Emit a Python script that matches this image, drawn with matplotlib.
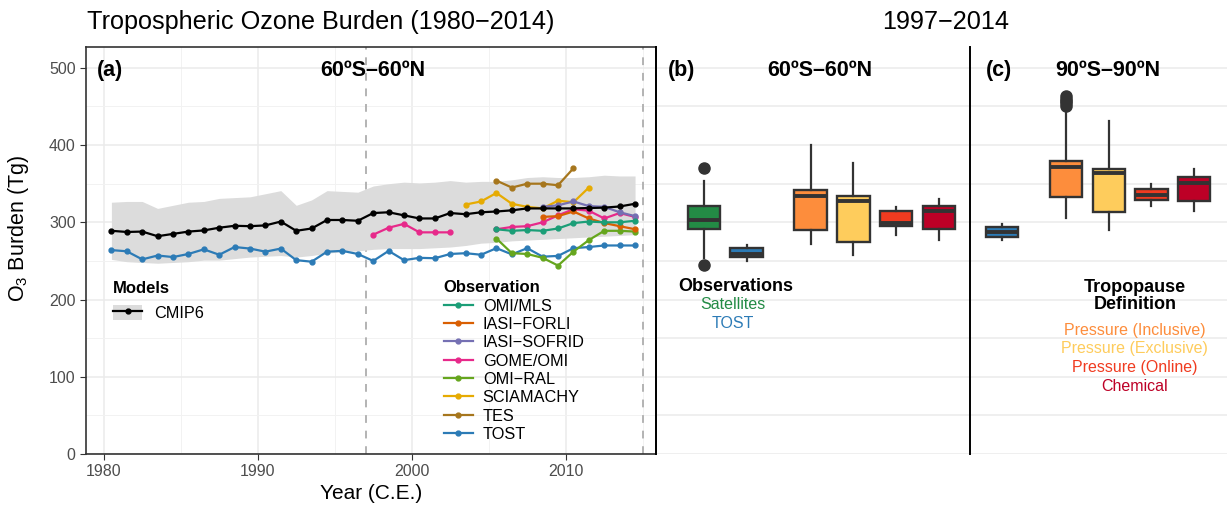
import numpy as np
import matplotlib
matplotlib.use("Agg")
import matplotlib.pyplot as plt
from matplotlib.lines import Line2D
from matplotlib.patches import Patch

plt.rcParams['font.family'] = ['Liberation Sans', 'DejaVu Sans']
plt.rcParams['mathtext.fontset'] = 'custom'
plt.rcParams['mathtext.rm'] = 'Liberation Sans'

# ---- panel (a) data: annual means, 1980.5 .. 2014.5 ----
years = np.arange(1980.5, 2015.0, 1.0)
cmip6 = [289, 287.5, 288, 282, 285, 288, 289.5, 293, 295.5, 295, 296, 301, 289, 292,
         303, 303, 302, 312, 313, 309, 305, 305, 312, 310.5, 313, 314, 315.5, 318,
         318, 318, 318, 318.5, 319, 320.5, 324]
cmip6_hi = [326, 327, 327, 318, 322, 326, 327, 331, 332, 333, 337, 341, 322, 329,
            341, 340, 339, 347, 350, 352, 351, 352, 354, 352, 353, 353, 355, 358,
            359, 358, 358, 359, 361, 360, 360]
cmip6_lo = [252, 249, 248, 247, 248, 249, 251, 251, 253, 255, 256, 257, 255, 257,
            260, 262, 263, 265, 266, 266, 266, 267, 268, 270, 273, 274, 276, 277,
            278, 279, 280, 281, 282, 283, 284]
tost = [264, 262.5, 252, 257, 255, 259, 265, 258, 268, 266, 262, 266, 251, 249,
        262, 263, 259, 250, 263, 251, 254, 253.5, 259, 260, 258, 266.5, 258.5, 266.5,
        255.5, 256.5, 266.5, 268, 270, 270, 270]

obs_names = ["OMI/MLS", "IASI\u2212FORLI", "IASI\u2212SOFRID", "GOME/OMI",
             "OMI\u2212RAL", "SCIAMACHY", "TES", "TOST"]
obs_colors = ["#1b9e77", "#d95f02", "#7570b3", "#e7298a",
              "#66a61e", "#e6ab02", "#a6761d", "#2c7bb6"]
nan = np.nan
omi_mls_yr = np.arange(2005.5, 2015.0)
omi_mls = [291, 289, 290, 289, 292, 299, 301, 300, 300, 302]
forli_yr = np.arange(2008.5, 2015.0)
forli = [307, 308, 314, 305, 299, 295, 291]
sofrid_yr = np.arange(2008.5, 2015.0)
sofrid = [320, 322, 327, 321, 320, 313, 308]
gome_yr = np.arange(1997.5, 2015.0)
gome = [284, 293, 298, 287, 287, 287, nan, nan, 291, 294, 295, 300, 309, 317,
        315, 305, 312, 307]
ral_yr = np.arange(2005.5, 2015.0)
ral = [279, 260, 259, 254, 244, 262, 277, 289, 289, 288]
sciam_yr = np.arange(2003.5, 2012.0)
sciam = [323, 327, 338, 324, 320, 318, 328, 326, 345]
tes_yr = np.arange(2005.5, 2011.0)
tes = [354, 345, 350, 350, 348, 370]

# ---- panels (b), (c): box statistics 1997-2014 ----
box_colors = ["#238b45", "#2c7bb6", "#fd8d3c", "#fecc5c", "#f03b20", "#bd0026"]
pos_b = [0, 1, 2.5, 3.5, 4.5, 5.5]
b_whislo = [253.5, 250.5, 271.5, 258, 283.5, 277]
b_q1 = [291, 255, 289.5, 274, 295.3, 291]
b_med = [303, 259.5, 334.5, 328, 298.5, 315]
b_q3 = [320.5, 267, 342, 333.5, 314, 320.5]
b_whishi = [353, 270, 400, 376.5, 319.5, 330]
b_fliers = [[370, 244.5], [], [], [], [], []]

pos_c = [1, 2.5, 3.5, 4.5, 5.5]
c_whislo = [276.5, 306, 289.5, 320.5, 315]
c_q1 = [281, 332.5, 313, 329, 328]
c_med = [287, 371, 363.5, 335, 351]
c_q3 = [294.5, 380, 369, 343, 359]
c_whishi = [297.5, 448, 431.5, 349.5, 369]
c_fliers = [[], [451, 454, 457, 460, 463], [], [], []]

W, H = 1227, 508
fig = plt.figure(figsize=(W / 100, H / 100), dpi=100)
ax = fig.add_axes([86 / W, 1 - 454 / H, 570 / W, 407 / H])
axb = fig.add_axes([656 / W, 1 - 454 / H, 314 / W, 407 / H])
axc = fig.add_axes([970 / W, 1 - 454 / H, 257 / W, 407 / H])

dark = "#333333"
tickc = "#4d4d4d"

# ---- panel (a) ----
ax.set_xlim(1978.85, 2015.86)
ax.set_ylim(0, 527)
ax.set_xticks([1980, 1990, 2000, 2010])
ax.set_xticks([1985, 1995, 2005, 2015], minor=True)
ax.set_yticks(range(0, 501, 100))
ax.set_yticks(range(50, 501, 100), minor=True)
ax.grid(which="major", color="#ebebeb", lw=1.1, zorder=0)
ax.grid(which="minor", color="#f2f2f2", lw=0.7, zorder=0)
ax.set_axisbelow(True)
ax.tick_params(which="major", direction="out", length=4, color=dark,
               labelcolor=tickc, labelsize=11.5)
ax.tick_params(which="minor", length=0)
for s in ax.spines.values():
    s.set_color(dark)
    s.set_linewidth(1.2)
for xv in (1997, 2015):
    ax.axvline(xv, color="#b3b3b3", lw=1.4, ls=(0, (4, 4)), zorder=1)

ax.fill_between(years, cmip6_lo, cmip6_hi, color="#dcdcdc", lw=0, zorder=1)
ax.plot(years, cmip6, color="black", lw=1.6, marker="o", ms=3.5, zorder=5)

obs_x = [omi_mls_yr, forli_yr, sofrid_yr, gome_yr, ral_yr, sciam_yr, tes_yr, years]
obs_y = [omi_mls, forli, sofrid, gome, ral, sciam, tes, tost]
for xs, ys, c in zip(obs_x[::-1], obs_y[::-1], obs_colors[::-1]):
    ax.plot(xs, ys, color=c, lw=1.6, marker="o", ms=3.5, zorder=4)

ax.set_xlabel("Year (C.E.)", fontsize=15, labelpad=3)
ax.set_ylabel(r"O$_\mathregular{3}$ Burden (Tg)", fontsize=15.5)
ax.yaxis.set_label_coords(-0.096, 0.555)

ax.text(0.019, 0.943, "(a)", transform=ax.transAxes, fontsize=15.5,
        fontweight="bold", va="center", ha="left")
ax.text(0.5035, 0.943, "60ºS–60ºN", transform=ax.transAxes, fontsize=15.5,
        fontweight="bold", va="center", ha="center")

h_models = (Patch(facecolor="#dcdcdc", edgecolor="none"),
            Line2D([], [], color="black", lw=1.6, marker="o", ms=3.5))
leg1 = ax.legend([h_models], ["CMIP6"], title="Models", loc="upper left",
                 bbox_to_anchor=(0.022, 0.46), frameon=False, fontsize=11.7,
                 handlelength=1.8, handleheight=1.1, handletextpad=0.75,
                 alignment="left", title_fontproperties={"weight": "bold", "size": 12})
ax.add_artist(leg1)
h_obs = [Line2D([], [], color=c, lw=1.6, marker="o", ms=3.5) for c in obs_colors]
ax.legend(h_obs, obs_names, title="Observation", loc="upper left",
          bbox_to_anchor=(0.602, 0.463), frameon=False, fontsize=11.7,
          handlelength=1.8, handletextpad=0.6, labelspacing=0.205,
          alignment="left", title_fontproperties={"weight": "bold", "size": 12})


def draw_boxes(a, pos, lo, q1, med, q3, hi, fl, cols):
    stats = []
    for i in range(len(pos)):
        stats.append(dict(whislo=lo[i], q1=q1[i], med=med[i], q3=q3[i],
                          whishi=hi[i], fliers=fl[i]))
    bp = a.bxp(stats, positions=pos, widths=0.76, patch_artist=True,
               showcaps=False, manage_ticks=False,
               boxprops=dict(edgecolor=dark, linewidth=1.7),
               medianprops=dict(color=dark, linewidth=2.8),
               whiskerprops=dict(color=dark, linewidth=1.6),
               flierprops=dict(marker="o", markerfacecolor=dark,
                               markeredgecolor=dark, markersize=8))
    for patch, c in zip(bp["boxes"], cols):
        patch.set_facecolor(c)


for a, xl in ((axb, (-1.12, 6.23)), (axc, (0.25, 6.27))):
    a.set_xlim(*xl)
    a.set_ylim(0, 527)
    a.set_yticks(range(0, 501, 50))
    a.grid(axis="y", color="#ebebeb", lw=1.1, zorder=0)
    a.set_axisbelow(True)
    a.set_xticks([])
    a.tick_params(axis="y", length=0, labelleft=False)
    for k in ("top", "right", "bottom"):
        a.spines[k].set_visible(False)
    a.spines["left"].set_color("black")
    a.spines["left"].set_linewidth(1.4)
    a.patch.set_alpha(0)

draw_boxes(axb, pos_b, b_whislo, b_q1, b_med, b_q3, b_whishi, b_fliers, box_colors)
draw_boxes(axc, pos_c, c_whislo, c_q1, c_med, c_q3, c_whishi, c_fliers, box_colors[1:])

axb.text(0.038, 0.943, "(b)", transform=axb.transAxes, fontsize=15.5,
         fontweight="bold", va="center", ha="left")
axb.text(0.522, 0.943, "60ºS–60ºN", transform=axb.transAxes, fontsize=15.5,
         fontweight="bold", va="center", ha="center")
axc.text(0.062, 0.943, "(c)", transform=axc.transAxes, fontsize=15.5,
         fontweight="bold", va="center", ha="left")
axc.text(0.537, 0.943, "90ºS–90ºN", transform=axc.transAxes, fontsize=15.5,
         fontweight="bold", va="center", ha="center")

axb.text(0.75, 217, "Observations", fontsize=13, fontweight="bold",
         ha="center", va="center")
axb.text(0.68, 194, "Satellites", fontsize=11.5, color="#238b45",
         ha="center", va="center")
axb.text(0.68, 168.5, "TOST", fontsize=11.5, color="#2c7bb6",
         ha="center", va="center")

axc.text(4.11, 216, "Tropopause", fontsize=13, fontweight="bold",
         ha="center", va="center")
axc.text(4.11, 193, "Definition", fontsize=13, fontweight="bold",
         ha="center", va="center")
c_labels = ["Pressure (Inclusive)", "Pressure (Exclusive)", "Pressure (Online)", "Chemical"]
for lab, c, yv in zip(c_labels, box_colors[2:], [159.5, 136, 111.5, 87]):
    axc.text(4.11, yv, lab, fontsize=11.5, color=c, ha="center", va="center")

fig.text(87 / W, 1 - 22 / H, "Tropospheric Ozone Burden (1980\u22122014)",
         fontsize=18.2, ha="left", va="center")
fig.text(946 / W, 1 - 22 / H, "1997\u22122014", fontsize=18.2,
         ha="center", va="center")

fig.savefig("out.png", dpi=100)
